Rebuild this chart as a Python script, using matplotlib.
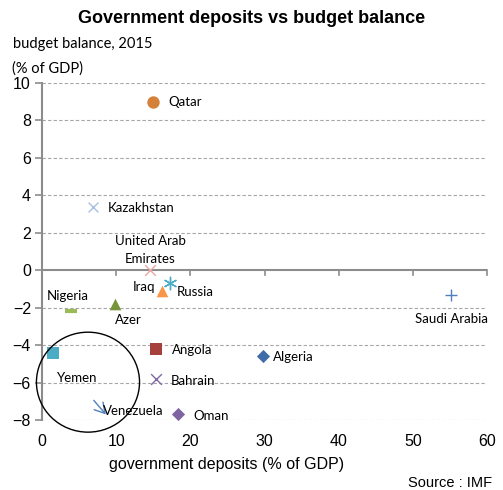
import matplotlib
matplotlib.use("Agg")
import matplotlib.pyplot as plt
from matplotlib.patches import Ellipse

# government deposits (% of GDP) vs budget balance 2015 (% of GDP)
countries = ["Qatar", "Kazakhstan", "United Arab\nEmirates", "Russia", "Iraq", "Nigeria",
             "Azer", "Saudi Arabia", "Yemen", "Angola", "Algeria", "Bahrain",
             "Venezuela", "Oman"]
deposits = [15.0, 6.9, 14.6, 17.3, 16.2, 3.9, 9.8, 55.1, 1.5, 15.4, 29.8, 15.4, 8.6, 18.3]
balance = [9.0, 3.4, 0.0, -0.7, -1.1, -2.2, -1.8, -1.3, -4.4, -4.2, -4.6, -5.8, -7.7, -7.7]

markers = ["o", "x", "x", (6, 2, 0), "^", "_", "^", "+", "s", "s", "D", "x", None, "D"]
colors = ["#D4823A", "#A9BEE0", "#E8A9A7", "#4BACC6", "#F79646", "#9BBB59",
          "#77933C", "#4F81BD", "#4BACC6", "#A5403D", "#3F6BA8", "#7F6AA1",
          "#4F81BD", "#8064A2"]
sizes = [80, 50, 60, 80, 70, 80, 70, 70, 80, 75, 45, 60, 0, 45]

# label offsets in pixels (dx, dy) and horizontal alignment
label_pos = [(15, 0, "left"), (15, -1, "left"), (0, 20, "center"), (6, -9, "left"),
             (-29, 4, "left"), (-24, 15, "left"), (0, -16, "left"), (-36, -24, "left"),
             (4, -25, "left"), (16, -1, "left"), (10, -1, "left"), (15, -2, "left"),
             (-3, 3, "left"), (16, -2, "left")]

xticks = [0, 10, 20, 30, 40, 50, 60]
yticks = [-8, -6, -4, -2, 0, 2, 4, 6, 8, 10]

label_font = "Lato"

fig = plt.figure(figsize=(5.03, 4.90), dpi=100)
ax = fig.add_axes([0.0835, 0.1429, 0.8847, 0.6877])
ax.set_xlim(0, 60)
ax.set_ylim(-8, 10)

# dashed gridlines, solid zero line
for y in yticks:
    if y == 0:
        ax.axhline(0, color="#8C8C8C", lw=1.5, zorder=1)
    else:
        ax.axhline(y, color="#A6A6A6", lw=0.8, ls=(0, (3, 2)), zorder=1)
for x in xticks[1:]:
    ax.plot([x, x], [0, -0.28], color="#8C8C8C", lw=1.2, zorder=1, clip_on=False)

for spine in ["top", "right", "bottom"]:
    ax.spines[spine].set_visible(False)
ax.spines["left"].set_color("#8C8C8C")
ax.spines["left"].set_linewidth(1.5)

ax.set_yticks(yticks)
ax.set_xticks(xticks)
ax.tick_params(axis="y", length=5, width=1.2, color="#8C8C8C", labelsize=11.5, pad=3)
ax.tick_params(axis="x", length=0, labelsize=11.5, pad=10)
for lab in ax.get_xticklabels() + ax.get_yticklabels():
    lab.set_fontfamily("Liberation Sans")

for i, name in enumerate(countries):
    x, y = deposits[i], balance[i]
    m = markers[i]
    if m is not None:
        lw = 0 if m in ("o", "s", "D", "^") else 1.0
        if m == "_":
            lw = 3
        ax.scatter([x], [y], marker=m, s=sizes[i], color=colors[i],
                   linewidths=lw, zorder=3, clip_on=False)
    else:
        ax.annotate("", xy=(x, y), xytext=(-12, 14), textcoords="offset pixels",
                    arrowprops=dict(arrowstyle="->,head_length=0.5,head_width=0.3",
                                    color=colors[i], lw=1.0, mutation_scale=14,
                                    shrinkA=0, shrinkB=0), zorder=3)
    dx, dy, ha = label_pos[i]
    ax.annotate(name, xy=(x, y), xytext=(dx, dy), textcoords="offset pixels",
                ha=ha, va="center", fontsize=9.5, family=label_font,
                linespacing=1.6, zorder=4)

# circle around Yemen / Venezuela
ax.add_patch(Ellipse((6.2, -5.98), 13.9, 5.34, fill=False, ec="black", lw=1.0,
                     clip_on=False, zorder=5))

fig.text(0.5, 0.963, "Government deposits vs budget balance", ha="center", va="center",
         fontsize=13, fontweight="bold", family="Liberation Sans")
fig.text(0.026, 0.910, "budget balance, 2015", ha="left", va="center",
         fontsize=10.5, family=label_font)
fig.text(0.024, 0.861, "(% of GDP)", ha="left", va="center",
         fontsize=10.5, family=label_font)
fig.text(0.45, 0.053, "government deposits (% of GDP)", ha="center", va="center",
         fontsize=11.5, family="Liberation Sans")
fig.text(0.978, 0.015, "Source : IMF", ha="right", va="center",
         fontsize=10.5, family="Liberation Sans")

fig.savefig("out.png", dpi=100)
